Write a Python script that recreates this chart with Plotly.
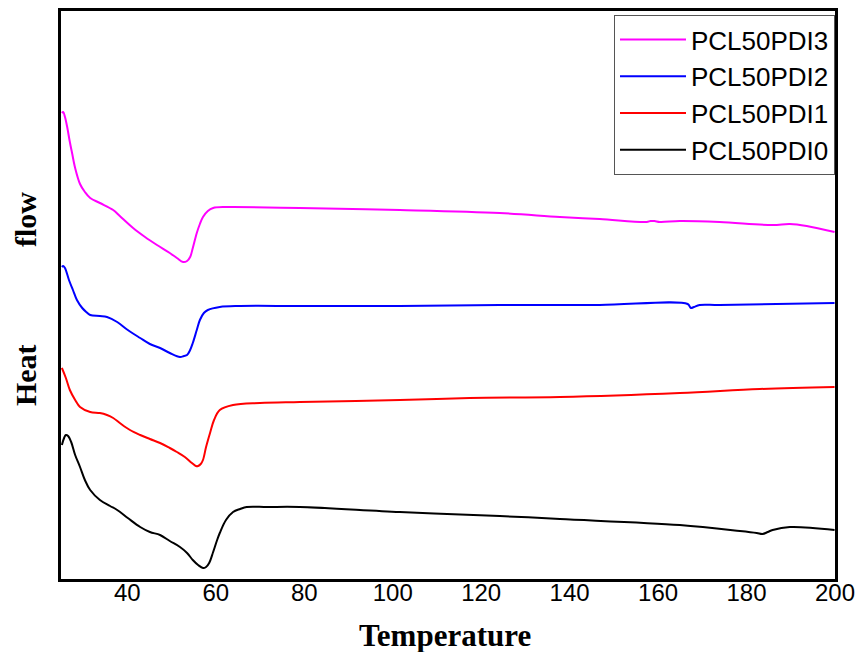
import plotly.graph_objects as go

# DSC heating curves (heat flow in arbitrary units, vertically offset)
t_pdi3 = [25.2, 25.5, 25.9, 26.4, 27.0, 27.5, 28.2, 29.3, 30.4, 31.6, 33.8, 36.8, 38.3, 41.3, 44.0,
          46.7, 49.6, 51.2, 52.6, 53.5, 54.2, 54.8, 55.7, 56.4, 57.1, 58.2, 59.4, 62.1, 63.9, 79.0,
          101.6, 124.2, 137.8, 146.8, 157.4, 158.3, 159.2, 160.4, 164.9, 173.9, 185.9, 189.8, 193.6, 199.9]
hf_pdi3 = [4.66, 4.67, 4.62, 4.52, 4.37, 4.26, 4.11, 3.95, 3.87, 3.81, 3.76, 3.69, 3.63, 3.51, 3.42,
           3.34, 3.26, 3.21, 3.17, 3.18, 3.22, 3.31, 3.46, 3.55, 3.62, 3.68, 3.71, 3.72, 3.72, 3.71,
           3.69, 3.66, 3.62, 3.60, 3.57, 3.58, 3.58, 3.57, 3.58, 3.57, 3.54, 3.55, 3.53, 3.47]

t_pdi2 = [25.2, 25.5, 25.9, 26.8, 27.7, 28.6, 29.8, 30.7, 31.6, 33.8, 35.4, 37.7, 40.1, 42.9, 45.1,
          47.4, 49.6, 51.9, 52.8, 53.5, 54.2, 54.8, 55.7, 56.4, 57.3, 58.2, 60.9, 65.5, 79.0, 101.6,
          124.2, 146.8, 166.7, 167.4, 168.1, 169.4, 173.9, 199.9]
hf_pdi2 = [3.12, 3.13, 3.11, 2.99, 2.89, 2.79, 2.71, 2.67, 2.64, 2.63, 2.62, 2.57, 2.49, 2.41, 2.35,
           2.31, 2.26, 2.22, 2.23, 2.24, 2.29, 2.36, 2.49, 2.59, 2.66, 2.69, 2.72, 2.73, 2.73, 2.73,
           2.74, 2.74, 2.75, 2.71, 2.72, 2.74, 2.74, 2.76]

t_pdi1 = [25.2, 26.1, 27.0, 28.2, 29.3, 31.6, 33.8, 35.4, 36.8, 38.3, 40.6, 42.9, 45.1, 47.4, 49.6,
          51.2, 53.0, 54.6, 55.5, 56.0, 56.6, 57.1, 57.8, 58.7, 59.6, 60.9, 63.9, 70.0, 79.0, 101.6,
          117.4, 137.8, 164.9, 183.0, 199.9]
hf_pdi1 = [2.11, 2.01, 1.89, 1.79, 1.72, 1.67, 1.66, 1.64, 1.61, 1.56, 1.49, 1.44, 1.40, 1.36, 1.31,
           1.27, 1.22, 1.16, 1.13, 1.13, 1.15, 1.19, 1.32, 1.46, 1.59, 1.69, 1.74, 1.76, 1.77, 1.79,
           1.81, 1.82, 1.86, 1.90, 1.92]

t_pdi0 = [25.2, 25.7, 26.1, 26.6, 27.3, 28.2, 29.3, 30.4, 31.6, 33.8, 36.1, 37.7, 40.1, 42.9, 45.1,
          47.4, 49.6, 51.9, 53.5, 54.8, 56.0, 57.1, 57.8, 58.5, 59.4, 60.3, 60.9, 62.3, 63.9, 65.5,
          67.0, 71.6, 79.0, 101.6, 124.2, 137.8, 164.9, 178.5, 182.3, 183.6, 184.8, 185.9, 189.8, 199.9]
hf_pdi0 = [1.34, 1.41, 1.44, 1.43, 1.37, 1.24, 1.12, 0.99, 0.89, 0.79, 0.73, 0.69, 0.61, 0.52, 0.47,
           0.44, 0.38, 0.32, 0.26, 0.19, 0.14, 0.11, 0.12, 0.16, 0.27, 0.39, 0.46, 0.59, 0.67, 0.70,
           0.72, 0.72, 0.72, 0.67, 0.63, 0.60, 0.54, 0.48, 0.46, 0.45, 0.47, 0.49, 0.52, 0.49]

series = [
    ("PCL50PDI3", t_pdi3, hf_pdi3, "#ff00ff"),
    ("PCL50PDI2", t_pdi2, hf_pdi2, "#0000ff"),
    ("PCL50PDI1", t_pdi1, hf_pdi1, "#ff0000"),
    ("PCL50PDI0", t_pdi0, hf_pdi0, "#000000"),
]

x_ticks = [40, 60, 80, 100, 120, 140, 160, 180, 200]

fig = go.Figure()
for name, t, hf, color in series:
    fig.add_trace(go.Scatter(
        x=t, y=hf, name=name, mode="lines",
        line=dict(color=color, width=2, shape="spline", smoothing=1.0),
    ))

fig.update_layout(
    width=857, height=652,
    margin=dict(l=61, r=22, t=11, b=73, autoexpand=False),
    paper_bgcolor="white", plot_bgcolor="white",
    showlegend=True,
    legend=dict(
        x=1.0, xanchor="right", y=0.993, yanchor="top",
        font=dict(family="Liberation Sans, Arial", size=26, color="black"),
        bordercolor="#555555", borderwidth=1, bgcolor="white",
        tracegroupgap=0, itemwidth=66,
    ),
    xaxis=dict(
        range=[25, 200], tickvals=x_ticks, ticks="", ticklen=0, showgrid=False, zeroline=False,
        showline=True, linewidth=2.5, linecolor="black", mirror=True, automargin=False,
        tickfont=dict(family="Liberation Sans, Arial", size=24, color="black"),
        ticklabelstandoff=-10,
    ),
    yaxis=dict(
        range=[0, 5.68], showticklabels=False, ticks="", showgrid=False, zeroline=False,
        showline=True, linewidth=2.5, linecolor="black", mirror=True, automargin=False,
    ),
    annotations=[
        dict(text="<b>Temperature</b>", xref="paper", yref="paper", x=0.4955, y=-0.0986,
             xanchor="center", yanchor="middle", showarrow=False,
             font=dict(family="Liberation Serif, Times New Roman", size=31, color="black")),
        dict(text="<b>Heat</b>", xref="paper", yref="paper", x=-0.0465, y=0.359,
             xanchor="center", yanchor="middle", showarrow=False, textangle=-90,
             font=dict(family="Liberation Serif, Times New Roman", size=30, color="black")),
        dict(text="<b>flow</b>", xref="paper", yref="paper", x=-0.0465, y=0.632,
             xanchor="center", yanchor="middle", showarrow=False, textangle=-90,
             font=dict(family="Liberation Serif, Times New Roman", size=30, color="black")),
    ],
)

fig.write_html("out.html")
